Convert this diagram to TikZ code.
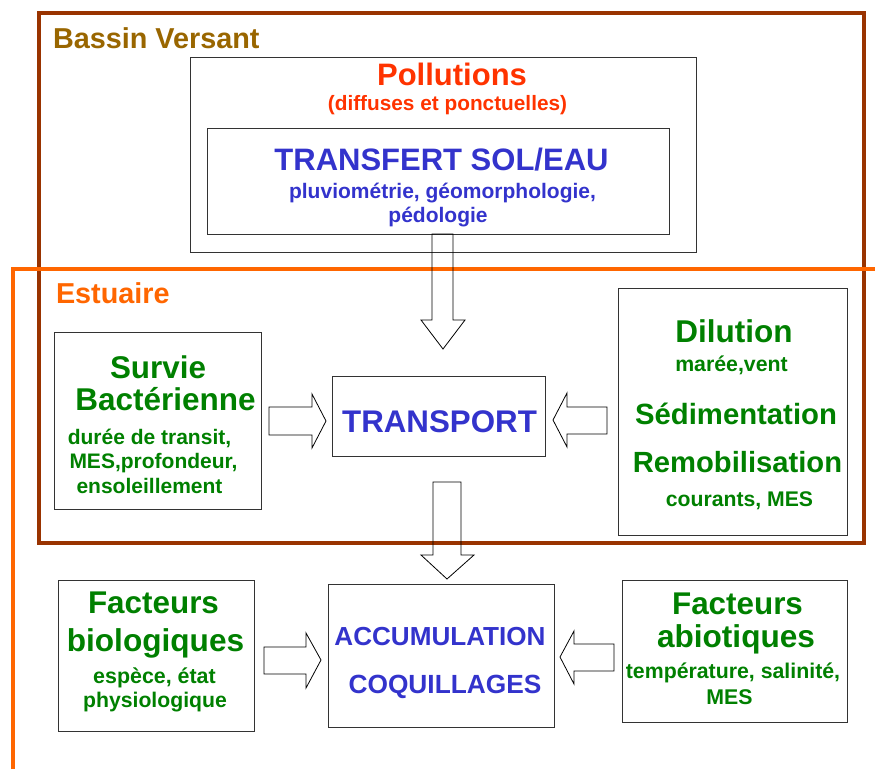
\documentclass[tikz,border=0pt]{standalone}
\usepackage{fontspec}
\setmainfont{Liberation Sans}
\definecolor{bvbrown}{HTML}{993300}
\definecolor{bvtext}{HTML}{996600}
\definecolor{estorange}{HTML}{FF6600}
\definecolor{polred}{HTML}{FF3300}
\definecolor{tblue}{HTML}{3333CC}
\definecolor{tgreen}{HTML}{008000}
\newcommand\txtsz[1]{\fontsize{#1}{#1}\selectfont\bfseries}
\begin{document}
\begin{tikzpicture}[x=1pt,y=-1pt,
  box/.style={draw=black!80, line width=1pt, inner sep=0pt, outer sep=0pt, anchor=north west},
  lbl/.style={inner sep=0pt, outer sep=0pt, anchor=base},
  lblw/.style={inner sep=0pt, outer sep=0pt, anchor=base west},
  blk/.style={draw=black, line width=0.8pt, line join=miter}]
\useasboundingbox (0,0) rectangle (875,769);

% frames
\draw[bvbrown, line width=3.6pt, line join=miter] (39,12.8) rectangle (864,543);
\draw[estorange, line width=4pt, line join=miter] (12.7,769) -- (12.7,269) -- (875,269);
\node[lblw, text=bvtext, font=\txtsz{28.8}] (bvlabel) at (53,48) {Bassin Versant};
\node[lblw, text=estorange, font=\txtsz{28.8}] (estlabel) at (56,303) {Estuaire};

% boxes
\node[box, minimum width=506pt, minimum height=195pt] (pollu) at (190,57) {};
\node[box, minimum width=462pt, minimum height=106pt] (transfert) at (207,128) {};
\node[box, minimum width=213pt, minimum height=80pt] (transport) at (332,376) {};
\node[box, minimum width=207pt, minimum height=177pt] (survie) at (54,332) {};
\node[box, minimum width=229pt, minimum height=247pt] (dilution) at (618,288) {};
\node[box, minimum width=226pt, minimum height=143pt] (accum) at (328,584) {};
\node[box, minimum width=196pt, minimum height=151pt] (bio) at (58,580) {};
\node[box, minimum width=225pt, minimum height=142pt] (abio) at (622,580) {};

% texts
\node[lbl, text=polred, font=\txtsz{31}] (t1) at (452,85) {Pollutions};
\node[lbl, text=polred, font=\txtsz{20.8}] (t2) at (447.5,110) {(diffuses et ponctuelles)};
\node[lbl, text=tblue, font=\txtsz{31}] (t3) at (441.5,170) {TRANSFERT SOL/EAU};
\node[lbl, text=tblue, font=\txtsz{21}] (t4) at (442.5,198) {pluviométrie, géomorphologie,};
\node[lbl, text=tblue, font=\txtsz{21}] (t5) at (438,222) {pédologie};

\node[lbl, text=tblue, font=\txtsz{31.3}] (t6) at (439.5,432) {TRANSPORT};

\node[lbl, text=tgreen, font=\txtsz{31.4}] (t7) at (158,378) {Survie};
\node[lbl, text=tgreen, font=\txtsz{31.5}] (t8) at (165.5,410) {Bactérienne};
\node[lbl, text=tgreen, font=\txtsz{21}] (t9) at (149.5,444) {durée de transit,};
\node[lbl, text=tgreen, font=\txtsz{21}] (t10) at (153.5,468) {MES,profondeur,};
\node[lbl, text=tgreen, font=\txtsz{21}] (t11) at (149.5,493) {ensoleillement};

\node[lbl, text=tgreen, font=\txtsz{31.5}] (t12) at (734,342) {Dilution};
\node[lbl, text=tgreen, font=\txtsz{21.3}] (t13) at (731.5,371) {marée,vent};
\node[lbl, text=tgreen, font=\txtsz{29.3}] (t14) at (736,424) {Sédimentation};
\node[lbl, text=tgreen, font=\txtsz{29.2}] (t15) at (737.5,472) {Remobilisation};
\node[lbl, text=tgreen, font=\txtsz{21.2}] (t16) at (739.5,506) {courants, MES};

\node[lbl, text=tblue, font=\txtsz{26.1}] (t17) at (440,645) {ACCUMULATION};
\node[lbl, text=tblue, font=\txtsz{26.3}] (t18) at (445,693) {COQUILLAGES};

\node[lbl, text=tgreen, font=\txtsz{31.4}] (t19) at (153.5,613) {Facteurs};
\node[lbl, text=tgreen, font=\txtsz{31.6}] (t20) at (155.5,651) {biologiques};
\node[lbl, text=tgreen, font=\txtsz{21.4}] (t21) at (154.5,683) {espèce, état};
\node[lbl, text=tgreen, font=\txtsz{21.2}] (t22) at (155,707) {physiologique};

\node[lbl, text=tgreen, font=\txtsz{31.4}] (t23) at (737.5,614) {Facteurs};
\node[lbl, text=tgreen, font=\txtsz{31.6}] (t24) at (736,647) {abiotiques};
\node[lbl, text=tgreen, font=\txtsz{21.3}] (t25) at (733,678) {température, salinité,};
\node[lbl, text=tgreen, font=\txtsz{21.3}] (t26) at (729.5,704) {MES};

% block arrows
\draw[blk] (432,234) -- (453,234) -- (453,320) -- (465,320) -- (443,349) -- (421,320) -- (432,320) -- cycle;
\draw[blk] (269,407) -- (312,407) -- (312,394) -- (326,421) -- (312,448) -- (312,435) -- (269,435) -- cycle;
\draw[blk] (607,407) -- (567,407) -- (567,393) -- (553,420) -- (567,447) -- (567,434) -- (607,434) -- cycle;
\draw[blk] (433,482) -- (461,482) -- (461,555) -- (474,555) -- (447,579) -- (421,555) -- (433,555) -- cycle;
\draw[blk] (264,647) -- (306,647) -- (306,633) -- (321,660) -- (306,688) -- (306,674) -- (264,674) -- cycle;
\draw[blk] (614,644) -- (574,644) -- (574,631) -- (560,657) -- (574,684) -- (574,671) -- (614,671) -- cycle;
\end{tikzpicture}
\end{document}
